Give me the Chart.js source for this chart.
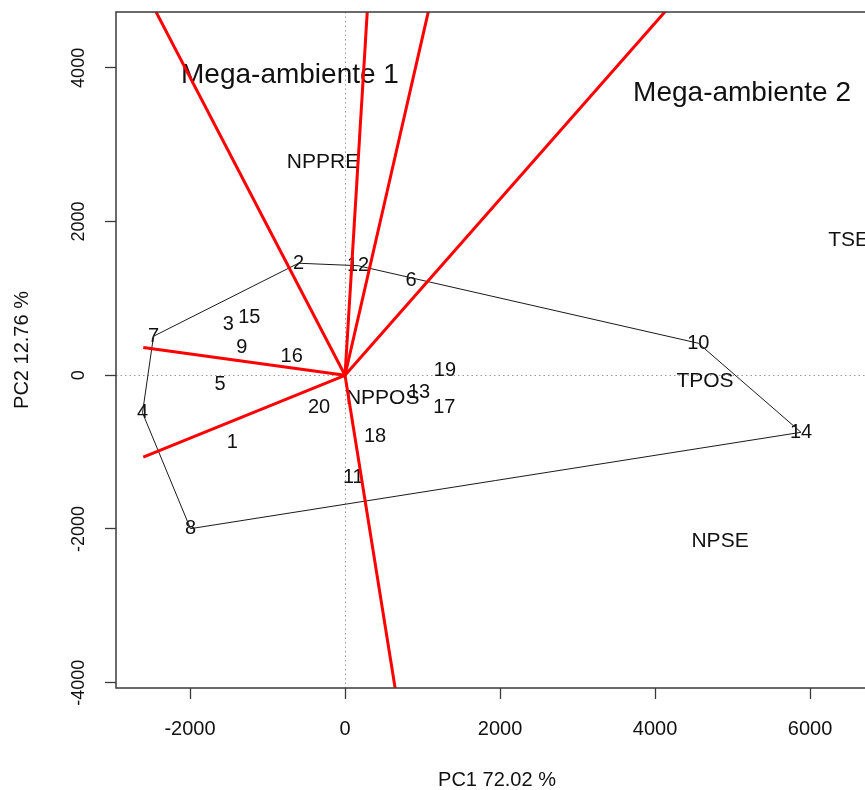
<!DOCTYPE html>
<html>
<head>
<meta charset="utf-8">
<title>GGE biplot</title>
<script src="https://cdn.jsdelivr.net/npm/chart.js@4.4.1/dist/chart.umd.min.js"></script>
<style>
  html, body { margin: 0; padding: 0; background: #fff; overflow: hidden; }
  #wrap { width: 880px; height: 790px; }
</style>
</head>
<body>
<div id="wrap"><canvas id="biplot" width="880" height="790"></canvas></div>
<script>
// genotype scores on PC1 / PC2
const genotypes = ["1", "2", "3", "4", "5", "6", "7", "8", "9", "10",
                   "11", "12", "13", "14", "15", "16", "17", "18", "19", "20"];
const genoPC1 = [-1454, -600, -1506, -2613, -1613, 852, -2471, -1994, -1333, 4559,
                 107, 168, 955, 5884, -1235, -688, 1281, 387, 1290, -335];
const genoPC2 = [-868, 1458, 664, -488, -117, 1237, 508, -1996, 361, 417,
                 -1332, 1426, -225, -742, 751, 251, -413, -794, 65, -421];

// environment scores
const environments = ["NPPRE", "NPPOS", "TPOS", "NPSE", "TSE"];
const envPC1 = [-284, 486, 4645, 4839, 6497];
const envPC2 = [2777, -303, -74, -2161, 1764];

// polygon of the vertex genotypes
const hullOrder = ["7", "2", "12", "10", "14", "8", "4", "7"];

// sector lines leaving the origin
const rayPC1 = [-2465, 290, 1086, 4172, -2603, -2603, 656];
const rayPC2 = [4780, 4780, 4780, 4780, 361, -1064, -4130];

// mega-environment names
const megaLabels = ["Mega-ambiente 1", "Mega-ambiente 2"];
const megaPC1 = [-710, 5123];
const megaPC2 = [3906, 3672];

const xTicks = [-2000, 0, 2000, 4000, 6000];
const yTicks = [-4000, -2000, 0, 2000, 4000];

const FONT = '"Liberation Sans", Arial, Helvetica, sans-serif';
const INK = "#111";
const FRAME = "#3a3a3a";

Chart.defaults.font.family = FONT;
Chart.defaults.color = INK;

const genoPoints = genotypes.map((g, i) => ({ x: genoPC1[i], y: genoPC2[i] }));
const envPoints = environments.map((e, i) => ({ x: envPC1[i], y: envPC2[i] }));
const hullPoints = hullOrder.map(g => genoPoints[genotypes.indexOf(g)]);

const rayDatasets = rayPC1.map((x, i) => ({
  label: "ray" + i,
  data: [{ x: 0, y: 0 }, { x: x, y: rayPC2[i] }],
  showLine: true,
  borderColor: "#ff0000",
  borderWidth: 3,
  pointRadius: 0,
  clip: 0,
  order: 0,
}));

// text, frame and reference lines drawn around the datasets
const biplotDecor = {
  id: "biplotDecor",
  beforeDatasetsDraw(chart) {
    const { ctx, chartArea: a, scales: { x, y } } = chart;
    ctx.save();
    // dotted zero lines
    ctx.strokeStyle = "#999";
    ctx.lineWidth = 1;
    ctx.setLineDash([1.5, 3]);
    const x0 = Math.round(x.getPixelForValue(0)) + 0.5;
    const y0 = Math.round(y.getPixelForValue(0)) + 0.5;
    ctx.beginPath();
    ctx.moveTo(x0, a.top); ctx.lineTo(x0, a.bottom);
    ctx.moveTo(a.left, y0); ctx.lineTo(a.right, y0);
    ctx.stroke();
    ctx.setLineDash([]);

    ctx.fillStyle = INK;
    ctx.textAlign = "center";
    ctx.textBaseline = "middle";

    ctx.font = "20px " + FONT;
    chart.getDatasetMeta(1).data.forEach((pt, i) => ctx.fillText(genotypes[i], pt.x, pt.y));
    ctx.font = "21px " + FONT;
    chart.getDatasetMeta(2).data.forEach((pt, i) => ctx.fillText(environments[i], pt.x, pt.y));

    ctx.font = "28px " + FONT;
    megaLabels.forEach((t, i) => {
      ctx.fillText(t, x.getPixelForValue(megaPC1[i]), y.getPixelForValue(megaPC2[i]));
    });
    ctx.restore();
  },
  afterDraw(chart) {
    const { ctx, chartArea: a, scales: { y } } = chart;
    ctx.save();
    ctx.strokeStyle = FRAME;
    ctx.lineWidth = 1.5;
    ctx.strokeRect(a.left, a.top, a.right - a.left, a.bottom - a.top);

    // y tick labels run along the axis
    ctx.fillStyle = INK;
    ctx.font = "18px " + FONT;
    ctx.textAlign = "center";
    ctx.textBaseline = "middle";
    yTicks.forEach(v => {
      ctx.save();
      ctx.translate(79, y.getPixelForValue(v));
      ctx.rotate(-Math.PI / 2);
      ctx.fillText(String(v), 0, 0);
      ctx.restore();
    });
    ctx.restore();
  },
};

new Chart(document.getElementById("biplot"), {
  type: "scatter",
  data: {
    datasets: [
      {
        label: "hull",
        data: hullPoints,
        showLine: true,
        borderColor: "#1a1a1a",
        borderWidth: 1,
        pointRadius: 0,
        order: 1,
      },
      { label: "genotypes", data: genoPoints, pointRadius: 0, order: 2 },
      { label: "environments", data: envPoints, pointRadius: 0, order: 2 },
      ...rayDatasets,
    ],
  },
  options: {
    responsive: false,
    animation: false,
    events: [],
    layout: { padding: { top: 12, right: 2, left: 0, bottom: 0 } },
    plugins: {
      legend: { display: false },
      tooltip: { enabled: false },
    },
    scales: {
      x: {
        type: "linear",
        min: -2955,
        max: 6877,
        afterBuildTicks: s => { s.ticks = xTicks.map(v => ({ value: v })); },
        afterFit: s => { s.height = 102; },
        border: { display: false },
        grid: {
          drawOnChartArea: false,
          drawTicks: true,
          tickLength: 11,
          tickColor: FRAME,
          tickWidth: 1.3,
        },
        ticks: {
          padding: 18,
          maxRotation: 0,
          font: { size: 20 },
          callback: v => String(v),
        },
        title: {
          display: true,
          text: "PC1 72.02 %",
          font: { size: 20, lineHeight: 1 },
          padding: { top: 0, bottom: 0 },
        },
      },
      y: {
        type: "linear",
        min: -4069,
        max: 4727,
        afterBuildTicks: s => { s.ticks = yTicks.map(v => ({ value: v })); },
        afterFit: s => { s.width = 116; },
        border: { display: false },
        grid: {
          drawOnChartArea: false,
          drawTicks: true,
          tickLength: 11,
          tickColor: FRAME,
          tickWidth: 1.3,
        },
        ticks: { display: false },
        title: {
          display: true,
          text: "PC2 12.76 %",
          font: { size: 20, lineHeight: 1 },
          padding: { top: 12, bottom: 0 },
        },
      },
    },
  },
  plugins: [biplotDecor],
});
</script>
</body>
</html>
